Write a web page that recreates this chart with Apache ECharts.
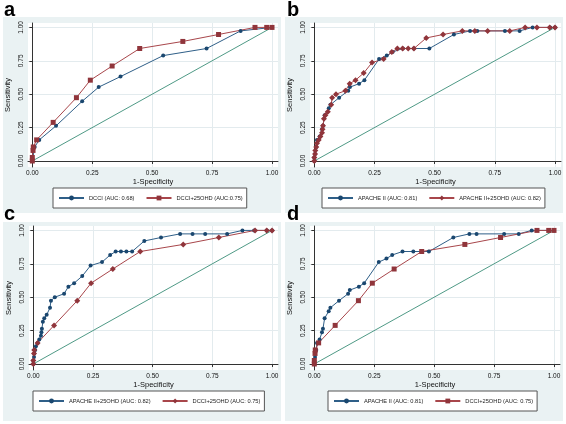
<!DOCTYPE html>
<html>
<head>
<meta charset="utf-8">
<script src="https://cdn.jsdelivr.net/npm/echarts@6/dist/echarts.min.js"></script>
<style>html,body{margin:0;padding:0;background:#fff}#c{width:566px;height:424px}</style>
</head>
<body>
<div id="c"></div>
<script>
// ---- data (1-Specificity, Sensitivity) ----
const tickValues = [0, 0.25, 0.5, 0.75, 1];
const diagX = [0, 1];
const diagY = [0, 1];

const dcciX = [0, 0.01, 0.029, 0.099, 0.208, 0.277, 0.368, 0.546, 0.727, 0.869, 1];
const dcciY = [0, 0.105, 0.158, 0.263, 0.447, 0.553, 0.632, 0.789, 0.842, 0.974, 1];

const dcci25X = [0, 0, 0.003, 0.004, 0.018, 0.087, 0.184, 0.242, 0.333, 0.448, 0.628, 0.777, 0.929, 0.978, 1];
const dcci25Y = [0, 0.026, 0.079, 0.105, 0.158, 0.289, 0.474, 0.605, 0.711, 0.842, 0.895, 0.947, 1, 1, 1];

const apacheX = [0, 0, 0.003, 0.008, 0.011, 0.022, 0.032, 0.036, 0.043, 0.06, 0.067, 0.103, 0.141, 0.148, 0.186, 0.208, 0.269, 0.301, 0.325, 0.368, 0.413, 0.478, 0.58, 0.647, 0.677, 0.792, 0.853, 0.907, 0.98, 1];
const apacheY = [0, 0.026, 0.053, 0.105, 0.158, 0.184, 0.237, 0.263, 0.342, 0.395, 0.421, 0.474, 0.526, 0.553, 0.579, 0.605, 0.763, 0.789, 0.816, 0.842, 0.842, 0.842, 0.947, 0.974, 0.974, 0.974, 0.974, 1, 1, 1];

const apache25X = [0, 0, 0.003, 0.004, 0.008, 0.011, 0.018, 0.025, 0.032, 0.034, 0.036, 0.04, 0.046, 0.056, 0.07, 0.074, 0.09, 0.129, 0.147, 0.171, 0.205, 0.24, 0.288, 0.322, 0.345, 0.367, 0.39, 0.414, 0.465, 0.535, 0.615, 0.667, 0.72, 0.812, 0.876, 0.925, 0.978, 1];
const apache25Y = [0, 0.026, 0.053, 0.079, 0.105, 0.132, 0.158, 0.184, 0.211, 0.237, 0.263, 0.316, 0.342, 0.368, 0.421, 0.474, 0.5, 0.526, 0.579, 0.605, 0.658, 0.737, 0.763, 0.816, 0.842, 0.842, 0.842, 0.842, 0.921, 0.947, 0.974, 0.974, 0.974, 0.974, 1, 1, 1, 1];

const panelLetters = ['a', 'b', 'c', 'd'];
const namesA = ['DCCI (AUC: 0.68)', 'DCCI+25OHD (AUC:0.75)'];
const namesB = ['APACHE II (AUC: 0.81)', 'APACHE II+25OHD (AUC: 0.82)'];
const namesC = ['APACHE II+25OHD (AUC: 0.82)', 'DCCI+25OHD (AUC: 0.75)'];
const namesD = ['APACHE II (AUC: 0.81)', 'DCCI+25OHD (AUC: 0.75)'];

// ---- build ----
const zip = (xs, ys) => xs.map((x, i) => [x, ys[i]]);
const FONT = '"Liberation Sans", Arial, Helvetica, sans-serif';
const BLUE = '#1a476f', RED = '#90353b', GREEN = '#4f9a86';
const BLUE_L = '#2f5f88', RED_L = '#a8464b';

const grids = [
  {left: 28, top: 23, width: 250, height: 144},
  {left: 310, top: 23, width: 251, height: 144},
  {left: 29, top: 226, width: 249, height: 144},
  {left: 310, top: 226, width: 250, height: 144}
].map(g => Object.assign({show: true, backgroundColor: '#fff', borderWidth: 0}, g));

function xAx(i) {
  return {
    gridIndex: i, type: 'value', min: -0.018, max: 1.025,
    name: '1-Specificity', nameLocation: 'middle', nameGap: 10,
    nameTextStyle: {fontSize: 7.5, color: '#111', fontFamily: FONT},
    axisLine: {show: true, lineStyle: {color: '#333', width: 1}},
    axisTick: {show: true, length: 3, customValues: tickValues, lineStyle: {color: '#333'}},
    axisLabel: {customValues: tickValues, fontSize: 6.5, color: '#111', fontFamily: FONT, margin: 3,
      formatter: v => v.toFixed(2)},
    splitLine: {show: true, lineStyle: {color: '#e3ebee', width: 1}}
  };
}
function yAx(i) {
  return {
    gridIndex: i, type: 'value', min: -0.045, max: 1.033,
    name: 'Sensitivity', nameLocation: 'middle', nameGap: 16,
    nameTextStyle: {fontSize: 7.5, color: '#111', fontFamily: FONT},
    axisLine: {show: true, lineStyle: {color: '#333', width: 1}},
    axisTick: {show: true, length: 3, customValues: tickValues, lineStyle: {color: '#333'}},
    axisLabel: {customValues: tickValues, rotate: 90, fontSize: 6.5, color: '#111', fontFamily: FONT, margin: 3,
      formatter: v => v.toFixed(2)},
    splitLine: {show: true, lineStyle: {color: '#e3ebee', width: 1}}
  };
}

function curve(name, i, xs, ys, color, lineColor, symbol, size) {
  return {
    type: 'line', name: name, xAxisIndex: i, yAxisIndex: i,
    data: zip(xs, ys), symbol: symbol, symbolSize: size, showSymbol: true,
    lineStyle: {color: lineColor, width: 1}, itemStyle: {color: color},
    animation: false, z: 3
  };
}
function diag(i) {
  return {
    type: 'line', name: 'ref' + i, xAxisIndex: i, yAxisIndex: i,
    data: zip(diagX, diagY), symbol: 'none',
    lineStyle: {color: GREEN, width: 1}, animation: false, z: 2, silent: true
  };
}

// unique internal names (trailing spaces trimmed in legend)
const sfx = ['', ' ', '  ', '   '];
const series = [
  diag(0),
  curve(namesA[0] + sfx[0], 0, dcciX, dcciY, BLUE, BLUE_L, 'circle', 4),
  curve(namesA[1] + sfx[0], 0, dcci25X, dcci25Y, RED, RED_L, 'rect', 5),
  diag(1),
  curve(namesB[0] + sfx[1], 1, apacheX, apacheY, BLUE, BLUE_L, 'circle', 4),
  curve(namesB[1] + sfx[1], 1, apache25X, apache25Y, RED, RED_L, 'diamond', 6),
  diag(2),
  curve(namesC[0] + sfx[2], 2, apache25X, apache25Y, BLUE, BLUE_L, 'circle', 4),
  curve(namesC[1] + sfx[2], 2, dcci25X, dcci25Y, RED, RED_L, 'diamond', 6),
  diag(3),
  curve(namesD[0] + sfx[3], 3, apacheX, apacheY, BLUE, BLUE_L, 'circle', 4),
  curve(namesD[1] + sfx[3], 3, dcci25X, dcci25Y, RED, RED_L, 'rect', 5)
];

function leg(names, s, left, top) {
  return {
    data: names.map(n => n + s), left: left, top: top, orient: 'horizontal',
    backgroundColor: '#fff', borderColor: '#555', borderWidth: 1,
    padding: [7, 4, 7, 5], itemGap: 11, itemWidth: 25, itemHeight: 6,
    textStyle: {fontSize: 5.7, color: '#222', fontFamily: FONT},
    formatter: n => n.trim(), selectedMode: false
  };
}

const bg = [[3, 17], [285, 17], [3, 222], [285, 222]].map(p => ({
  type: 'rect', left: p[0], top: p[1], z: -10,
  shape: {width: 278, height: p[1] === 17 ? 196 : 199},
  style: {fill: '#eaf2f3'}
}));
const letters = [[4, 20], [287, 20], [4, 224], [287, 224]].map((p, i) => ({
  type: 'text', x: p[0], y: p[1], z: 10,
  style: {text: panelLetters[i], fill: '#000', font: 'bold 20px ' + FONT, verticalAlign: 'bottom', align: 'left'}
}));

const chart = echarts.init(document.getElementById('c'), null, {renderer: 'canvas'});
chart.setOption({
  animation: false,
  backgroundColor: '#fff',
  grid: grids,
  xAxis: [0, 1, 2, 3].map(xAx),
  yAxis: [0, 1, 2, 3].map(yAx),
  legend: [
    leg(namesA, sfx[0], 53, 188),
    leg(namesB, sfx[1], 322, 188),
    leg(namesC, sfx[2], 33, 391),
    leg(namesD, sfx[3], 328, 391)
  ],
  graphic: bg.concat(letters),
  series: series
});
</script>
</body>
</html>
